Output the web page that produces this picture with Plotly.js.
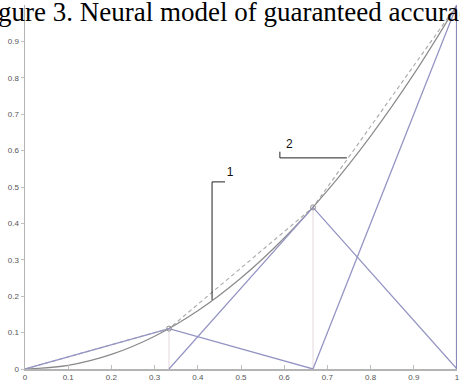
<!DOCTYPE html>
<html><head><meta charset="utf-8">
<script src="https://cdn.plot.ly/plotly-3.0.1.min.js"></script>
<style>html,body{margin:0;padding:0;background:#fff;}#chart{width:460px;height:387px;}</style>
</head><body><div id="chart"></div>
<script>
// Nodes of the piecewise-linear neural approximation
const nodeX = [0, 1/3, 2/3, 1];
const nodeY = [0, 0.111, 0.444, 1];
// Target curve
const curveX = [0, 0.1, 0.2, 0.3, 0.4, 0.5, 0.6, 0.7, 0.8, 0.9, 1];
const curveY = [0, 0.01, 0.04, 0.09, 0.16, 0.25, 0.36, 0.49, 0.64, 0.81, 1];
// Hat (basis) functions
const hat1X = [0, 1/3, 2/3], hat1Y = [0, 0.111, 0];
const hat2X = [1/3, 2/3, 1], hat2Y = [0, 0.444, 0];
const hat3X = [2/3, 1], hat3Y = [0, 1];
const edgeX = [1, 1], edgeY = [0, 1];
const drop1X = [1/3, 1/3], drop1Y = [0, 0.111];
const drop2X = [2/3, 2/3], drop2Y = [0, 0.444];
const markX = [1/3, 2/3], markY = [0.111, 0.444];
// Callout labels
const labelText = ['1', '2'];
const lead1X = [0.433, 0.433, 0.463], lead1Y = [0.19, 0.514, 0.514];
const lead2X = [0.745, 0.590, 0.590], lead2Y = [0.58, 0.58, 0.597];
const labelX = [0.475, 0.612], labelY = [0.538, 0.615];
const xTicks = [0, 0.1, 0.2, 0.3, 0.4, 0.5, 0.6, 0.7, 0.8, 0.9, 1];
const xTickText = ['0','0.1','0.2','0.3','0.4','0.5','0.6','0.7','0.8','0.9','1'];
const yTicks = [0, 0.1, 0.2, 0.3, 0.4, 0.5, 0.6, 0.7, 0.8, 0.9];
const yTickText = ['0','0.1','0.2','0.3','0.4','0.5','0.6','0.7','0.8','0.9'];

const purple = '#9494c4';
const ln = (x, y, color, width, dash, shape) => ({x, y, type:'scatter', mode:'lines',
  line:{color, width, dash: dash||'solid', shape: shape||'linear'}, hoverinfo:'skip', showlegend:false});

const traces = [
  ln(drop1X, drop1Y, '#e4d8dc', 1),
  ln(drop2X, drop2Y, '#e4d8dc', 1),
  ln(nodeX, nodeY, '#a8a8a8', 1.1, '4px,3px'),
  ln(curveX, curveY, '#8a8a8a', 1.2, 'solid', 'spline'),
  ln(hat1X, hat1Y, purple, 1.3),
  ln(hat2X, hat2Y, purple, 1.3),
  ln(hat3X, hat3Y, purple, 1.3),
  ln(edgeX, edgeY, '#8a8ab8', 2.2),
  {x: markX, y: markY, type:'scatter', mode:'markers', marker:{symbol:'circle-open', size:5, color:'#909090', line:{width:1}}, hoverinfo:'skip', showlegend:false},
  ln(lead1X, lead1Y, '#222', 1),
  ln(lead2X, lead2Y, '#222', 1),
  {x: labelX, y: labelY, text: labelText, type:'scatter', mode:'text', textfont:{family:'Arial, Liberation Sans', size:12, color:'#111'}, hoverinfo:'skip', showlegend:false}
];

const layout = {
  width:460, height:387,
  margin:{l:25, r:3, t:5, b:18},
  paper_bgcolor:'#fff', plot_bgcolor:'#fff',
  title:{text:'Figure 3. Neural model of guaranteed accuracy', font:{family:'Liberation Serif, Times New Roman, serif', size:27, color:'#000'},
    x:0.5, xanchor:'center', xref:'container', y:1.022, yanchor:'top', yref:'container', pad:{t:0,b:0,l:0,r:0}},
  xaxis:{range:[0,1], tickvals:xTicks, ticktext:xTickText, showgrid:false, zeroline:false,
    showline:true, linecolor:'#b4b4b4', linewidth:1.5, ticks:'inside', ticklen:4, tickcolor:'#c0c0c0',
    tickfont:{family:'Arial, Liberation Sans', size:8, color:'#555'}, fixedrange:true},
  yaxis:{range:[0,1], tickvals:yTicks, ticktext:yTickText, showgrid:false, zeroline:false,
    showline:true, linecolor:'#b4b4b4', linewidth:1.5, ticks:'outside', ticklen:3, tickcolor:'#c0c0c0',
    tickfont:{family:'Arial, Liberation Sans', size:8, color:'#555'}, fixedrange:true}
};
Plotly.newPlot('chart', traces, layout, {staticPlot:true, displayModeBar:false});
</script></body></html>
